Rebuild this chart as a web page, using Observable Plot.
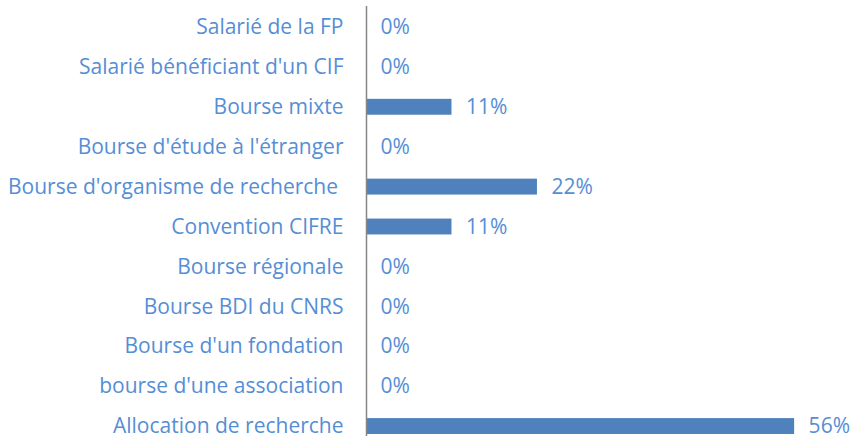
<!DOCTYPE html>
<html>
<head>
<meta charset="utf-8">
<script src="https://cdn.jsdelivr.net/npm/d3@7"></script>
<script src="https://cdn.jsdelivr.net/npm/@observablehq/plot@0.6"></script>
<style>
  html, body { margin: 0; padding: 0; background: #fff; }
  #chart svg { display: block; }
</style>
</head>
<body>
<div id="chart"></div>
<script>
const categories = [
  "Salarié de la FP",
  "Salarié bénéficiant d'un CIF",
  "Bourse mixte",
  "Bourse d'étude à l'étranger",
  "Bourse d'organisme de recherche\u00a0",
  "Convention CIFRE",
  "Bourse régionale",
  "Bourse BDI du CNRS",
  "Bourse d'un fondation",
  "bourse d'une association",
  "Allocation de recherche"
];
const shares = [0, 0, 0.111, 0, 0.222, 0.111, 0, 0, 0, 0, 0.556];

const data = categories.map((c, i) => ({category: c, share: shares[i]}));
const textColor = "#558ED5";
const barColor = "#4F81BD";
const font = "'Open Sans', Lato, sans-serif";
const fs = 21;

const chart = Plot.plot({
  width: 850,
  height: 436,
  marginLeft: 366,
  marginRight: 0,
  marginTop: 6,
  marginBottom: 0,
  style: {fontFamily: font, fontSize: fs + "px", color: textColor, background: "#fff"},
  x: {domain: [0, 1], range: [366, 366 + 770], axis: null},
  y: {domain: categories, range: [7, 446], paddingInner: 0, paddingOuter: 0, round: false, label: null},
  marks: [
    Plot.barX(data, {y: "category", x: "share", fill: barColor, insetTop: 12, insetBottom: 12}),
    Plot.ruleX([0], {stroke: "#868686", strokeWidth: 1.5}),
    Plot.text(data, {
      y: "category", x: "share",
      text: d => d3.format(".0%")(d.share),
      textAnchor: "start", dx: 14, fill: textColor, fontSize: fs
    }),
    Plot.axisY({tickSize: 0, tickPadding: 23, fontSize: fs, fill: textColor, label: null})
  ]
});
document.getElementById("chart").appendChild(chart);
</script>
</body>
</html>
